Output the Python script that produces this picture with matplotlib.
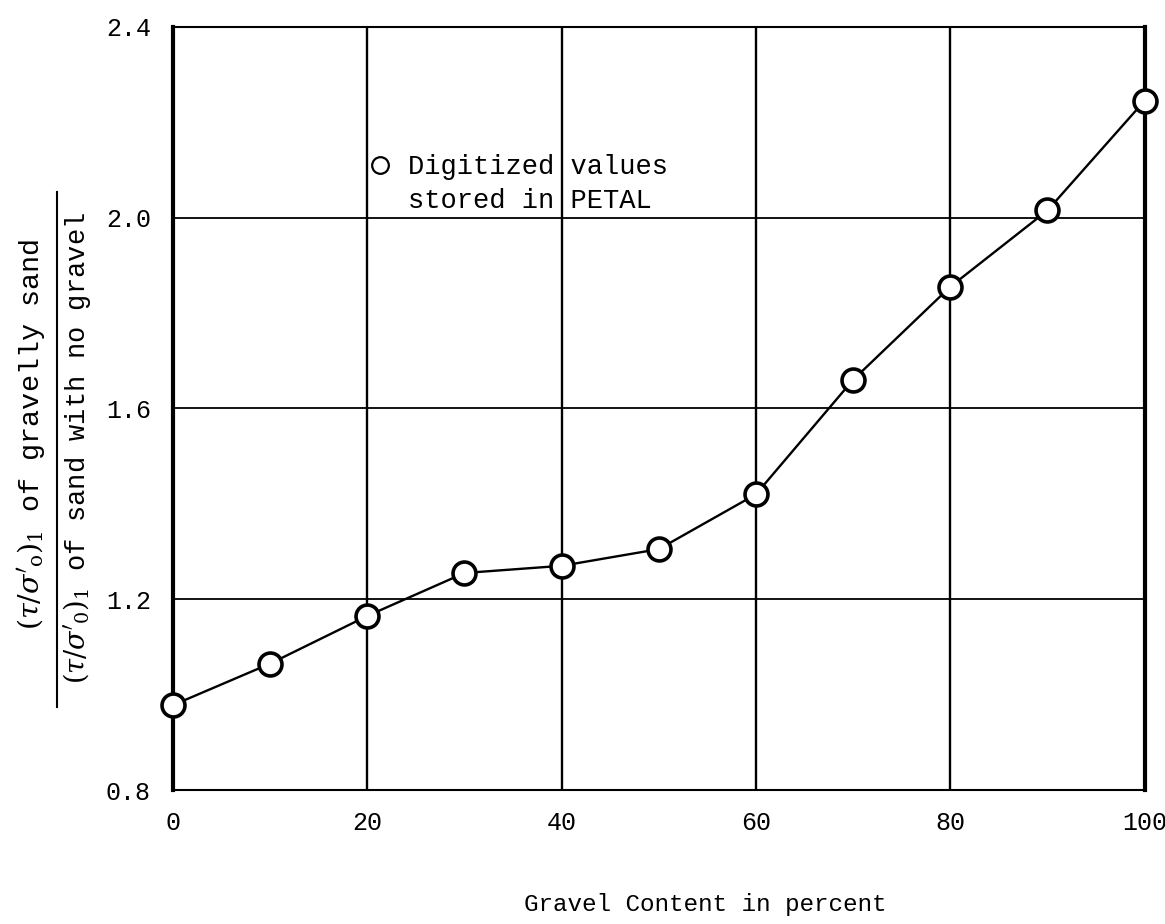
import matplotlib.pyplot as plt
from matplotlib.lines import Line2D

# Values.
gravel = [0, 10, 20, 30, 40, 50, 60, 70, 80, 90, 100]
ratio = [0.978, 1.065, 1.165, 1.255, 1.27, 1.305, 1.42, 1.66, 1.855, 2.015, 2.245]
x_ticks = [0, 20, 40, 60, 80, 100]
y_ticks = [0.8, 1.2, 1.6, 2.0, 2.4]
y_tick_labels = ['0.8', '1.2', '1.6', '2.0', '2.4']

plt.rcParams['font.family'] = ['Liberation Mono', 'DejaVu Sans Mono']
plt.rcParams['mathtext.fontset'] = 'dejavuserif'
plt.rcParams['font.size'] = 18

fig = plt.figure(figsize=(11.65, 9.24), dpi=100)
ax = fig.add_axes([0.1485, 0.145, 0.834, 0.826])

ax.set_xlim(0, 100)
ax.set_ylim(0.8, 2.4)
ax.set_xticks(x_ticks)
ax.set_yticks(y_ticks)
ax.set_yticklabels(y_tick_labels)
ax.tick_params(axis='both', length=0)
ax.tick_params(axis='x', pad=15)
ax.tick_params(axis='y', pad=16)

# Grid lines: vertical ones a bit heavier than horizontal ones.
for xv in x_ticks[1:-1]:
    ax.axvline(xv, color='black', lw=1.7, zorder=1)
for yv in y_ticks[1:-1]:
    ax.axhline(yv, color='black', lw=1.3, zorder=1)

ax.spines['left'].set_linewidth(3.0)
ax.spines['right'].set_linewidth(3.0)
ax.spines['top'].set_linewidth(1.5)
ax.spines['bottom'].set_linewidth(1.5)

ax.plot(gravel, ratio, color='black', lw=1.7, marker='o', markersize=16.5,
        markerfacecolor='white', markeredgecolor='black',
        markeredgewidth=2.6, zorder=3, clip_on=False)

# Legend: circle symbol on first line only.
handles = [Line2D([], [], ls='none', marker='o', markersize=12,
                  markerfacecolor='white', markeredgecolor='black',
                  markeredgewidth=1.6),
           Line2D([], [], ls='none')]
leg = ax.legend(handles, ['Digitized values', 'stored in PETAL'],
                loc='upper left', bbox_to_anchor=(0.305, 0.848),
                bbox_transform=fig.transFigure, frameon=False,
                handlelength=0.8, handletextpad=0.65, labelspacing=0.3,
                borderpad=0, fontsize=19.5)
leg.set_zorder(4)

# Y label written as a fraction.
fig.text(0.027, 0.53, r"$(\tau/\sigma'_{\mathrm{o}})_1$ of gravelly sand",
         rotation=90, ha='center', va='center', fontsize=20.5)
fig.add_artist(Line2D([0.049, 0.049], [0.235, 0.792], color='black',
                      lw=1.5, transform=fig.transFigure))
fig.text(0.066, 0.515, r"$(\tau/\sigma'_0)_1$ of sand with no gravel",
         rotation=90, ha='center', va='center', fontsize=19.5)

fig.text(0.605, 0.021, 'Gravel Content in percent', ha='center',
         va='center', fontsize=17.5)

plt.savefig('out.png', dpi=100)
